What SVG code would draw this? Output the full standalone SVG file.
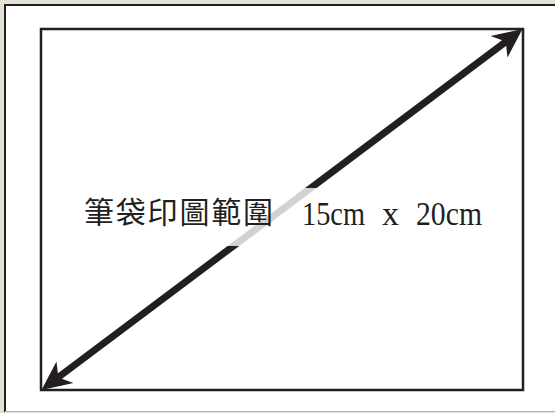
<svg xmlns="http://www.w3.org/2000/svg" width="555" height="413" viewBox="0 0 555 413">
  <style>
    .frame { fill: none; stroke: #231f20; stroke-width: 2; }
    .area { fill: #ffffff; stroke: #231f20; stroke-width: 2.5; }
    .shaft { stroke: #231f20; stroke-width: 7; fill: none; }
    .head { fill: #231f20; }
    .cjk { font-family: "Noto Sans CJK TC", "Noto Sans CJK SC", sans-serif; font-size: 30px; fill: #231f20; letter-spacing: 1.8px; }
    .lat { font-family: "Liberation Serif", serif; font-size: 34px; fill: #231f20; }
  </style>
  <rect x="0" y="0" width="555" height="413" fill="#e4e0d4"/>
  <rect x="5" y="5" width="551" height="406.5" fill="#ffffff"/>
  <line x1="4" y1="5" x2="555" y2="5" class="frame"/>
  <line x1="5" y1="4" x2="5" y2="412" class="frame"/>
  <line x1="5" y1="411.5" x2="555" y2="411.5" stroke="#b4b4b4" stroke-width="1"/>
  <g id="print-area">
    <rect x="41" y="29" width="482" height="361" class="area"/>
  </g>
  <g id="connectors">
    <line x1="56" y1="379" x2="508" y2="40" class="shaft"/>
    <polygon class="head" points="522.5,29 507.5,57.5 505.7,41.6 490.6,36"/>
    <polygon class="head" points="41.5,390 56.5,361.5 58.3,377.4 73.4,383"/>
  </g>
  <g id="label">
    <rect x="78" y="188" width="410" height="58" fill="#ffffff" fill-opacity="0.8"/>
    <text x="84" y="223" class="cjk">筆袋印圖範圍</text>
    <text x="302" y="225" class="lat" textLength="63" lengthAdjust="spacingAndGlyphs">15cm</text>
    <text x="390.5" y="225" class="lat" text-anchor="middle">x</text>
    <text x="416" y="225" class="lat" textLength="66" lengthAdjust="spacingAndGlyphs">20cm</text>
  </g>
</svg>
